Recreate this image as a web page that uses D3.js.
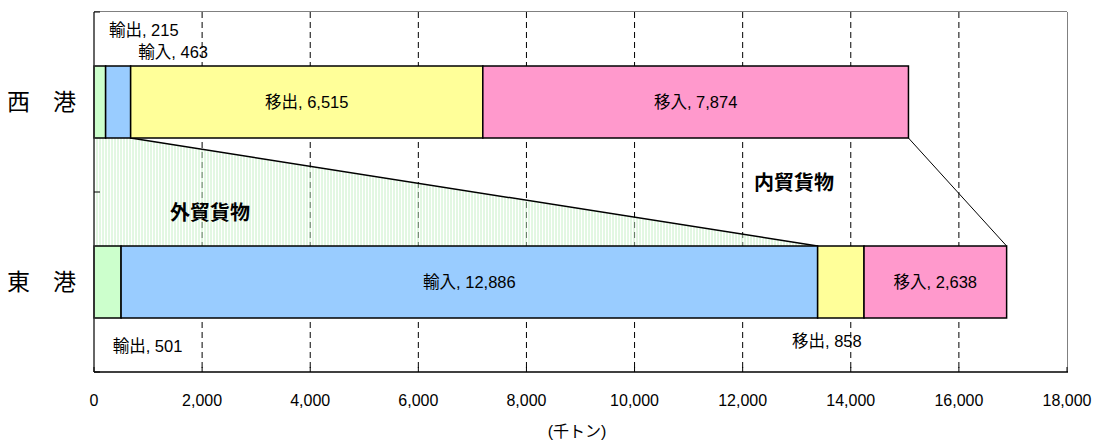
<!DOCTYPE html>
<html>
<head>
<meta charset="utf-8">
<script src="https://cdn.jsdelivr.net/npm/d3@7"></script>
<style>
  html, body { margin: 0; padding: 0; background: #fff; }
  svg text { font-family: "Liberation Sans", Arial, "Noto Sans CJK JP", sans-serif; }
</style>
</head>
<body>
<div id="chart"></div>
<script>
// ports (top to bottom) and cargo segments (left to right)
const ports = ['西　港', '東　港'];
const segments = ['輸出', '輸入', '移出', '移入'];
const westValues = [215, 463, 6515, 7874];
const eastValues = [501, 12886, 858, 2638];
const segColors = ['#CCFFCC', '#99CCFF', '#FFFF99', '#FF99CC'];
const xTicks = [0, 2000, 4000, 6000, 8000, 10000, 12000, 14000, 16000, 18000];
const xTitle = '(千トン)';

const width = 1097;
const height = 441;
const plotL = 94, plotR = 1067, plotT = 12, plotB = 372;

const svg = d3.select('#chart').append('svg')
  .attr('width', width).attr('height', height);

const x = d3.scaleLinear().domain([0, 18000]).range([plotL, plotR]);
const y = d3.scaleBand().domain(ports).range([plotT, plotB])
  .paddingInner(0.6).paddingOuter(0.3);

const fmt = d3.format(',');

// stacked rows
const rows = [westValues, eastValues].map((vals, i) => {
  let acc = 0;
  return vals.map((v, j) => {
    const d = { port: ports[i], seg: segments[j], value: v, x0: acc, x1: acc + v, color: segColors[j] };
    acc += v;
    return d;
  });
});

// hatch pattern for the 外貿 band
const defs = svg.append('defs');
const pat = defs.append('pattern').attr('id', 'hatch')
  .attr('patternUnits', 'userSpaceOnUse').attr('width', 3).attr('height', 6);
pat.append('line').attr('x1', 1).attr('x2', 1).attr('y1', 0).attr('y2', 6)
  .attr('stroke', '#c6efc6').attr('stroke-width', 1);

// gridlines
svg.append('g').selectAll('line')
  .data(xTicks.filter(t => t > 0 && t < 18000))
  .join('line')
  .attr('x1', d => x(d)).attr('x2', d => x(d))
  .attr('y1', plotT).attr('y2', plotB)
  .attr('stroke', '#000').attr('stroke-width', 1)
  .attr('stroke-dasharray', '6,4');

// frame (top/right in grey)
svg.append('line').attr('x1', plotL).attr('x2', plotR).attr('y1', plotT - 0.5).attr('y2', plotT - 0.5)
  .attr('stroke', '#808080');
svg.append('line').attr('x1', plotR + 0.5).attr('x2', plotR + 0.5).attr('y1', plotT).attr('y2', plotB)
  .attr('stroke', '#808080');

// 外貿 connector area between west foreign part and east foreign part
const wBot = y(ports[0]) + y.bandwidth();
const eTop = y(ports[1]);
const wForeign = westValues[0] + westValues[1];
const eForeign = eastValues[0] + eastValues[1];
const wTotal = d3.sum(westValues);
const eTotal = d3.sum(eastValues);

svg.append('path')
  .attr('d', d3.line()([[x(0), wBot], [x(wForeign), wBot], [x(eForeign), eTop], [x(0), eTop]]) + 'Z')
  .attr('fill', 'url(#hatch)');

svg.append('line')
  .attr('x1', x(wForeign)).attr('y1', wBot).attr('x2', x(eForeign)).attr('y2', eTop)
  .attr('stroke', '#000').attr('stroke-width', 1.5);
svg.append('line')
  .attr('x1', x(wTotal)).attr('y1', wBot).attr('x2', x(eTotal)).attr('y2', eTop)
  .attr('stroke', '#000').attr('stroke-width', 1);

// bars
svg.append('g').selectAll('rect')
  .data(rows.flat())
  .join('rect')
  .attr('x', d => x(d.x0))
  .attr('y', d => y(d.port))
  .attr('width', d => x(d.x1) - x(d.x0))
  .attr('height', y.bandwidth())
  .attr('fill', d => d.color)
  .attr('stroke', '#000')
  .attr('stroke-width', 1.5);

// segment labels: inside for wide segments, nudged outside for thin ones
const outside = {
  '西　港|輸出': { dx: 44, y: 30 },
  '西　港|輸入': { dx: 55, y: 52 },
  '東　港|輸出': { dx: 40, y: 346 },
  '東　港|移出': { dx: -14, y: 341 }
};
svg.append('g').selectAll('text')
  .data(rows.flat())
  .join('text')
  .attr('x', d => {
    const o = outside[d.port + '|' + d.seg];
    return (x(d.x0) + x(d.x1)) / 2 + (o ? o.dx : 0);
  })
  .attr('y', d => {
    const o = outside[d.port + '|' + d.seg];
    return o ? o.y : y(d.port) + y.bandwidth() / 2;
  })
  .attr('dy', '0.36em')
  .attr('text-anchor', 'middle')
  .attr('font-size', 16.5)
  .attr('fill', '#000')
  .text(d => `${d.seg}, ${fmt(d.value)}`);

// axes
svg.append('line').attr('x1', plotL).attr('x2', plotR + 1).attr('y1', plotB).attr('y2', plotB)
  .attr('stroke', '#000').attr('stroke-width', 1.5);
svg.append('line').attr('x1', plotL).attr('x2', plotL).attr('y1', plotT).attr('y2', plotB)
  .attr('stroke', '#333').attr('stroke-width', 1.5);

svg.append('g').selectAll('line')
  .data(xTicks)
  .join('line')
  .attr('x1', d => x(d)).attr('x2', d => x(d))
  .attr('y1', plotB - 5).attr('y2', plotB)
  .attr('stroke', '#000');

svg.append('g').selectAll('line')
  .data([plotT, (plotT + plotB) / 2, plotB])
  .join('line')
  .attr('x1', plotL).attr('x2', plotL + 6)
  .attr('y1', d => d).attr('y2', d => d)
  .attr('stroke', '#000');

svg.append('g').selectAll('text')
  .data(xTicks)
  .join('text')
  .attr('x', d => x(d))
  .attr('y', 400)
  .attr('dy', '0.36em')
  .attr('text-anchor', 'middle')
  .attr('font-size', 16)
  .text(d => fmt(d));

svg.append('text')
  .attr('x', 577).attr('y', 431).attr('dy', '0.36em')
  .attr('text-anchor', 'middle').attr('font-size', 16)
  .text(xTitle);

svg.append('g').selectAll('text')
  .data(ports)
  .join('text')
  .attr('x', 76)
  .attr('y', d => y(d) + y.bandwidth() / 2)
  .attr('dy', '0.36em')
  .attr('text-anchor', 'end')
  .attr('font-size', 23)
  .style('font-family', '"Noto Sans CJK JP", sans-serif')
  .text(d => d);

// group captions
svg.append('text').attr('x', 210).attr('y', 213).attr('dy', '0.36em')
  .attr('text-anchor', 'middle').attr('font-size', 20).attr('font-weight', 'bold')
  .style('font-family', '"Noto Sans CJK JP", sans-serif')
  .text('外貿貨物');
svg.append('text').attr('x', 794).attr('y', 183).attr('dy', '0.36em')
  .attr('text-anchor', 'middle').attr('font-size', 20).attr('font-weight', 'bold')
  .style('font-family', '"Noto Sans CJK JP", sans-serif')
  .text('内貿貨物');
</script>
</body>
</html>
